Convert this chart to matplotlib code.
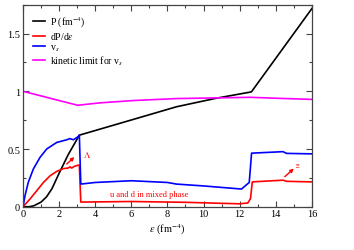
import matplotlib
matplotlib.use('Agg')
import matplotlib.pyplot as plt
from matplotlib.ticker import MultipleLocator

plt.rcParams['font.family'] = ['Liberation Serif', 'DejaVu Serif']
plt.rcParams['mathtext.fontset'] = 'stix'

# pressure P (fm^-4)
eps_P = [0, 0.35, 0.6, 1.0, 1.3, 1.6, 2.0, 2.5, 3.12, 5.2, 8.5, 10.7, 12.65, 16]
P = [0, 0, 0.008, 0.04, 0.085, 0.155, 0.29, 0.45, 0.62, 0.715, 0.866, 0.94, 0.995, 1.717]

# dP/d(eps)
eps_d = [0, 0.39, 0.76, 1.13, 1.5, 1.87, 2.23, 2.5, 2.6, 2.7, 2.85, 3.06, 3.12, 3.2,
         6, 9, 12, 12.45, 12.6, 12.7, 14.4, 14.6, 16]
dP = [0, 0.067, 0.138, 0.21, 0.268, 0.306, 0.33, 0.335, 0.345, 0.335, 0.35, 0.36, 0.36,
      0.04, 0.045, 0.038, 0.025, 0.032, 0.07, 0.215, 0.23, 0.22, 0.215]

# speed of sound v_s
eps_v = [0, 0.11, 0.29, 0.57, 0.94, 1.31, 1.87, 2.42, 2.6, 2.79, 3.06, 3.12, 3.2,
         4, 6, 8, 8.5, 10, 12.1, 12.53, 12.66, 14.4, 14.6, 16]
v_s = [0, 0.095, 0.21, 0.326, 0.427, 0.5, 0.557, 0.58, 0.59, 0.58, 0.608, 0.62, 0.196,
       0.21, 0.225, 0.21, 0.196, 0.18, 0.153, 0.21, 0.464, 0.477, 0.462, 0.458]

# kinetic limit for v_s
eps_k = [0, 0.5, 1.0, 2.0, 3.03, 4.26, 6.1, 8.5, 10.7, 12.6, 14, 16]
kin = [1.0, 0.98, 0.96, 0.92, 0.879, 0.90, 0.92, 0.937, 0.943, 0.948, 0.94, 0.93]

fig = plt.figure(figsize=(3.54, 2.51), dpi=100)
ax = fig.add_axes([0.065, 0.1725, 0.816, 0.8045])

ax.plot(eps_P, P, color='black', lw=1.2, label='P (fm$^{-4}$)')
ax.plot(eps_d, dP, color='red', lw=1.2, label='dP/d$\\epsilon$')
ax.plot(eps_v, v_s, color='blue', lw=1.2, label='v$_s$')
ax.plot(eps_k, kin, color='magenta', lw=1.2, label='kinetic limit for v$_s$')

ax.set_xlim(0, 16)
ax.set_ylim(0, 1.75)
ax.xaxis.set_major_locator(MultipleLocator(2))
ax.xaxis.set_minor_locator(MultipleLocator(1))
ax.yaxis.set_major_locator(MultipleLocator(0.5))
ax.yaxis.set_minor_locator(MultipleLocator(0.25))
ax.set_yticks([0, 0.5, 1, 1.5])
ax.set_yticklabels(['0', '0.5', '1', '1.5'])
ax.tick_params(which='both', direction='in', top=True, right=True,
               labelsize=7.5, color='#444444', pad=2)
ax.tick_params(which='major', length=4, width=0.8)
ax.tick_params(which='minor', length=2, width=0.8)
for sp in ax.spines.values():
    sp.set_color('#444444')
    sp.set_linewidth(0.9)

ax.set_xlabel('$\\epsilon$ (fm$^{-4}$)', fontsize=7.5, labelpad=2)

# annotations
ax.annotate('', xy=(2.85, 0.43), xytext=(2.42, 0.37),
            arrowprops=dict(arrowstyle='-|>', color='red', lw=1.0,
                            mutation_scale=5, shrinkA=0, shrinkB=0))
ax.text(3.3, 0.455, '$\\Lambda$', color='red', fontsize=6.5, ha='left', va='center')
ax.annotate('', xy=(15.0, 0.33), xytext=(14.5, 0.26),
            arrowprops=dict(arrowstyle='-|>', color='red', lw=1.0,
                            mutation_scale=5, shrinkA=0, shrinkB=0))
ax.text(15.05, 0.36, '$\\Xi$', color='red', fontsize=4, ha='left', va='center')
ax.text(7.0, 0.11, 'u and d in mixed phase', color='red', fontsize=6,
        ha='center', va='center')

ax.legend(loc='upper left', bbox_to_anchor=(0.02, 0.97), frameon=False,
          fontsize=7, handlelength=1.3, handletextpad=0.45, labelspacing=0.1,
          borderaxespad=0)

plt.savefig('out.png', dpi=100)
